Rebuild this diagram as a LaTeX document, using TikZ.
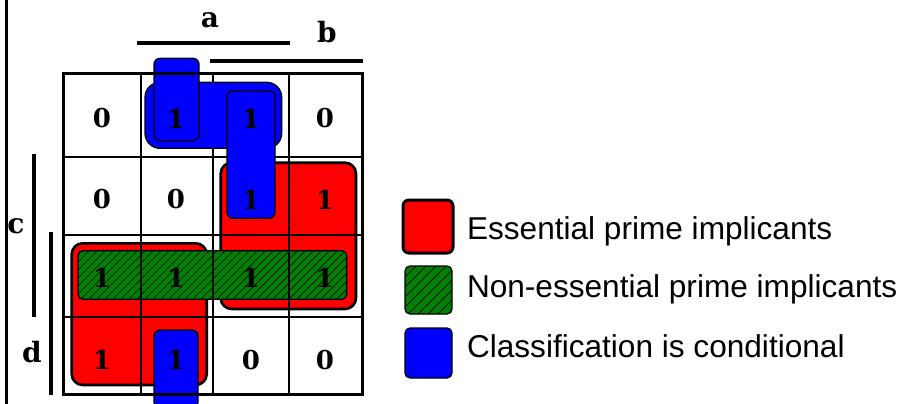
\documentclass[tikz,border=0pt]{standalone}
\usepackage{fontspec}
\setmainfont{Liberation Sans}
\newfontfamily\kmapfont{DejaVu Serif}
\definecolor{kgreen}{RGB}{0,128,0}
\begin{document}
\begin{tikzpicture}[x=1pt,y=-1pt,
  every node/.style={inner sep=0pt, outer sep=0pt},
  essential/.style={fill=red, draw=black, line width=2.6pt, rounded corners=11pt},
  nonessential/.style={fill=kgreen, draw=black, line width=1.3pt, rounded corners=5pt},
  conditional/.style={fill=blue, draw=black, line width=1.3pt, rounded corners=6pt},
  hatchline/.style={line width=0.7pt, draw=black},
  cellline/.style={line width=1.8pt},
  borderline/.style={line width=3pt},
  varbar/.style={line width=4pt},
  cellval/.style={font=\kmapfont\bfseries\fontsize{26}{26}\selectfont},
  varlabel/.style={font=\kmapfont\bfseries\fontsize{28}{28}\selectfont, anchor=base},
  legendtext/.style={font=\fontsize{31.6}{36}\selectfont, anchor=base west}]
\useasboundingbox (0,0) rectangle (905,404);
\fill[white] (0,0) rectangle (905,404);

% left edge rule
\draw[borderline] (6.5,0) -- (6.5,404);

% essential prime implicants
\path[essential] (220.7,162.7) rectangle (356,309);
\path[essential] (71.7,243.3) rectangle (206.7,385);

% non-essential prime implicant (hatched row)
\path[nonessential] (78,250.7) rectangle (346.7,299.3);
\begin{scope}
  \clip[rounded corners=5pt] (78,250.7) rectangle (346.7,299.3);
  \foreach \hx in {70,78,...,410} \draw[hatchline] (\hx,246) -- ++(-58,58);
\end{scope}

% inner cell lines
\foreach \cx in {141,213.3,289.3} \draw[cellline] (\cx,74) -- (\cx,394.3);
\foreach \cy in {156.7,235,317.3} \draw[cellline] (63.3,\cy) -- (362.3,\cy);

% conditional groups
\path[conditional, rounded corners=15pt] (145,82.3) rectangle (281.7,148.3);
\path[conditional] (154,58.3) rectangle (199,140.7);
\path[conditional] (227,90.7) rectangle (275,218.3);
\path[conditional] (154,330) rectangle (198,408);

% outer border of the map
\draw[borderline] (63.3,74) rectangle (362.3,394.3);

% cell values
\foreach \v [count=\i from 0] in {0,1,1,0, 0,0,1,1, 1,1,1,1, 1,1,0,0} {
  \pgfmathtruncatemacro{\col}{mod(\i,4)}
  \pgfmathtruncatemacro{\row}{int(\i/4)}
  \pgfmathsetmacro{\px}{{102,176,251,325}[\col]}
  \pgfmathsetmacro{\py}{{118.5,199.5,277.5,360}[\row]}
  \node[cellval] (cell\row\col) at (\px,\py) {\v};
}

% variable bars and labels
\draw[varbar] (137,43) -- (290,43);
\draw[varbar] (210,61) -- (363,61);
\draw[varbar] (34,154) -- (34,317);
\draw[varbar] (51,232) -- (51,395);
\node[varlabel] (lbla) at (210,28) {a};
\node[varlabel] (lblb) at (327,43) {b};
\node[varlabel] (lblc) at (16,233) {c};
\node[varlabel] (lbld) at (32,362) {d};

% legend
\path[essential, line width=3pt, rounded corners=6pt] (403,200) rectangle (453,253);
\path[nonessential] (405,266) rectangle (452,314);
\begin{scope}
  \clip[rounded corners=5pt] (405,266) rectangle (452,314);
  \foreach \hx in {400,410,...,510} \draw[hatchline] (\hx,262) -- ++(-60,60);
\end{scope}
\path[conditional, rounded corners=5pt] (405,328) rectangle (452,378);
\node[legendtext] (legess) at (467,239) {Essential prime implicants};
\node[legendtext] (legnon) at (467,297) {Non-essential prime implicants};
\node[legendtext] (legcond) at (467,357) {Classification is conditional};
\end{tikzpicture}
\end{document}
